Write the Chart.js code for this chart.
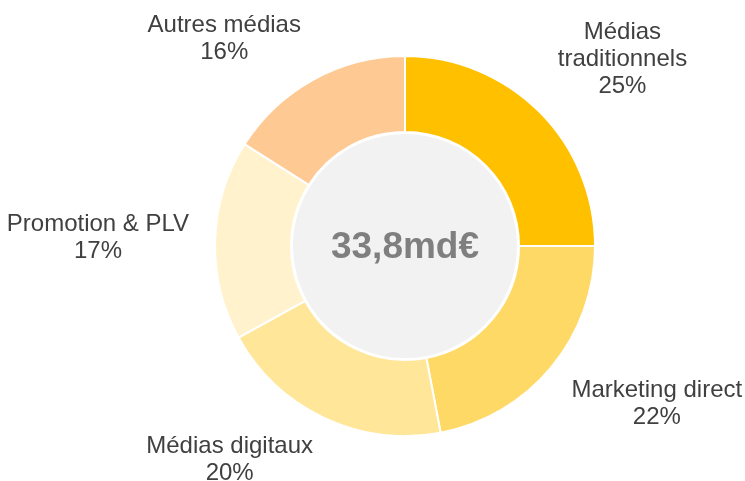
<!DOCTYPE html>
<html>
<head>
<meta charset="utf-8">
<script src="https://cdn.jsdelivr.net/npm/chart.js@4"></script>
<style>
    body { margin: 0; background: #fff; }
    #wrap { width: 745px; height: 481px; }
</style>
</head>
<body>
<div id="wrap"><canvas id="doughnutChart"></canvas></div>
<script>
// donnees
var categories = ['Médias traditionnels', 'Marketing direct', 'Médias digitaux', 'Promotion & PLV', 'Autres médias'];
var labelLines = [['Médias', 'traditionnels'], ['Marketing direct'], ['Médias digitaux'], ['Promotion & PLV'], ['Autres médias']];
var values = [25, 22, 20, 17, 16];
var totalLabel = '33,8md€';

var sliceColors = ['#FFC000', '#FFD966', '#FFE699', '#FFF2CC', '#FFC993'];

var labelFont = '24px "Liberation Sans", Arial, sans-serif';
var lineHeight = 27;

var centerAndLabels = {
    id: 'centerAndLabels',
    afterDatasetsDraw: function (chart) {
        var ctx = chart.ctx;
        var arcs = chart.getDatasetMeta(0).data;
        var first = arcs[0];
        var cx = first.x, cy = first.y;

        // disque central gris
        ctx.save();
        ctx.beginPath();
        ctx.arc(cx, cy, first.innerRadius - 1, 0, Math.PI * 2);
        ctx.fillStyle = '#F2F2F2';
        ctx.fill();
        ctx.lineWidth = 2;
        ctx.strokeStyle = '#FFFFFF';
        ctx.stroke();

        ctx.fillStyle = '#7F7F7F';
        ctx.font = 'bold 37px "Liberation Sans", Arial, sans-serif';
        ctx.textAlign = 'center';
        ctx.textBaseline = 'middle';
        ctx.fillText(totalLabel, cx, cy + 2);

        // etiquettes exterieures
        ctx.font = labelFont;
        ctx.fillStyle = '#404040';
        arcs.forEach(function (arc, i) {
            var lines = labelLines[i].concat([values[i] + '%']);
            var w = 0;
            lines.forEach(function (l) { w = Math.max(w, ctx.measureText(l).width); });
            var h = lines.length * lineHeight;
            var a = (arc.startAngle + arc.endAngle) / 2;
            var ax = cx + Math.cos(a) * (arc.outerRadius + 26);
            var ay = cy + Math.sin(a) * (arc.outerRadius + 16);
            var kx = Math.max(-1, Math.min(1, Math.cos(a) * 2.5));
            var ky = Math.max(-1, Math.min(1, Math.sin(a) * 2.5));
            var tx = ax + kx * w / 2;
            var ty = ay + ky * h / 2;
            lines.forEach(function (l, j) {
                ctx.fillText(l, tx, ty - h / 2 + lineHeight * (j + 0.5));
            });
        });
        ctx.restore();
    }
};

var doughnut_chart = document.getElementById('doughnutChart');
var doughnutChart = new Chart(doughnut_chart, {
    type: 'doughnut',
    data: {
        labels: categories,
        datasets: [{
            data: values,
            backgroundColor: sliceColors,
            borderColor: '#FFFFFF',
            borderWidth: 2,
            hoverOffset: 0
        }]
    },
    options: {
        responsive: true,
        maintainAspectRatio: false,
        animation: false,
        cutout: '60%',
        layout: {
            padding: { top: 55, bottom: 44, left: 214, right: 149 }
        },
        plugins: {
            legend: { display: false },
            tooltip: { enabled: false }
        }
    },
    plugins: [centerAndLabels]
});
</script>
</body>
</html>
